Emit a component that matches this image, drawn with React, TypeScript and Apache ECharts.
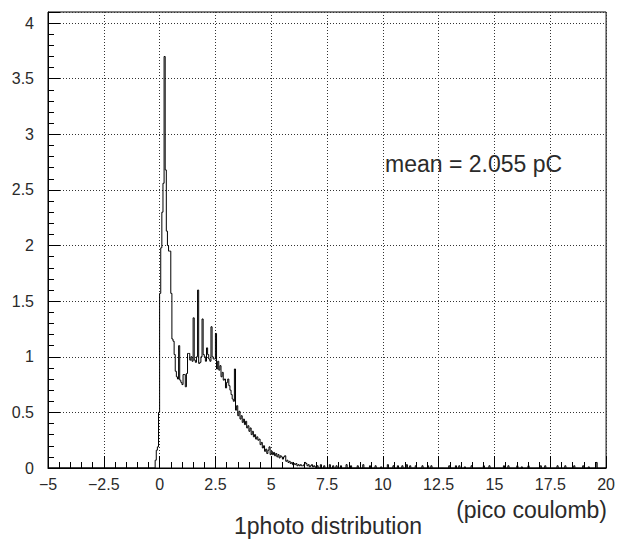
import React, { useEffect, useRef } from "react";
import * as echarts from "echarts";

// Histogram: 0.05 pC bins starting at -0.2 pC
const binWidth = 0.05;
const firstBinStart = -0.2;
const histEnd = 20;

// bin contents from -0.2 to 7.0 (each row = 10 bins = 0.5 pC)
const mainCounts = [
  0.07, 0.16, 0.19, 0.5, 1.57, 1.98, 2.3, 2.56, 3.7, 2.68,
  2.13, 2.0, 1.95, 1.95, 1.57, 1.16, 1.14, 1.02, 0.87, 0.82,
  0.8, 1.1, 0.79, 0.77, 0.75, 0.84, 0.84, 0.73, 0.85, 1.03,
  1.03, 0.97, 1.0, 0.96, 1.35, 0.97, 0.95, 1.0, 1.6, 0.94,
  0.95, 1.0, 1.34, 1.02, 1.0, 0.96, 1.08, 1.02, 0.98, 0.96,
  1.27, 1.0, 0.98, 0.98, 1.21, 0.89, 0.96, 0.88, 0.92, 0.82,
  0.86, 0.79, 0.8, 0.72, 0.77, 0.8, 0.74, 0.7, 0.66, 0.62,
  0.6, 0.89, 0.52, 0.56, 0.47, 0.51, 0.44, 0.47, 0.41, 0.44,
  0.39, 0.42, 0.36, 0.38, 0.33, 0.36, 0.3, 0.33, 0.28, 0.3,
  0.26, 0.28, 0.25, 0.26, 0.21, 0.23, 0.18, 0.2, 0.15, 0.17,
  0.13, 0.16, 0.19, 0.12, 0.15, 0.12, 0.14, 0.11, 0.13, 0.1,
  0.12, 0.09, 0.11, 0.1, 0.08, 0.1, 0.11, 0.06, 0.07, 0.05,
  0.06, 0.04, 0.05, 0.03, 0.04, 0.03, 0.04, 0.02, 0.03, 0.02,
  0.03, 0.02, 0.02, 0.03, 0.05, 0.04, 0.02, 0.03, 0.01, 0.02,
  0.03, 0.01, 0.02, 0.01,
];

// sparse tail beyond 7 pC: [bin start (pC), content]
const tailSpikes: [number, number][] = [
  [7.05, 0.02], [7.2, 0.03], [7.35, 0.02], [7.6, 0.03], [7.75, 0.02],
  [7.9, 0.02], [8.1, 0.02], [8.35, 0.03], [8.55, 0.02], [8.85, 0.02],
  [9.1, 0.03], [9.4, 0.02], [9.65, 0.02], [9.9, 0.01], [10.2, 0.03],
  [10.45, 0.02], [10.65, 0.02], [10.85, 0.02], [11.05, 0.03], [11.2, 0.02],
  [11.45, 0.02], [11.75, 0.02], [12.0, 0.02], [12.15, 0.02], [12.95, 0.02],
  [13.25, 0.02], [13.4, 0.02], [13.65, 0.01], [13.95, 0.02], [14.5, 0.02],
  [14.75, 0.02], [15.4, 0.02], [15.6, 0.02], [16.0, 0.02], [16.2, 0.01],
  [16.5, 0.02], [17.05, 0.02], [17.25, 0.02], [17.8, 0.02], [18.15, 0.02],
  [18.55, 0.02], [18.95, 0.02], [19.2, 0.01], [19.55, 0.05],
];

const xMin = -5;
const xMax = 20;
const xInterval = 2.5;
const yMin = 0;
const yMax = 4.1;
const yInterval = 0.5;

const titleText = "1photo distribution";
const unitText = "(pico coulomb)";
const meanText = "mean = 2.055 pC";

const FONT = '"Liberation Sans", Arial, sans-serif';
const TEXT_COLOR = "#2a2a2a";

function buildSteps(): [number, number][] {
  const nBins = Math.round((histEnd - firstBinStart) / binWidth);
  const counts = new Array(nBins).fill(0);
  mainCounts.forEach((v, i) => (counts[i] = v));
  tailSpikes.forEach(([x, v]) => {
    const idx = Math.round((x - firstBinStart) / binWidth);
    if (idx >= 0 && idx < nBins) counts[idx] = v;
  });
  const pts: [number, number][] = [[xMin, 0]];
  for (let i = 0; i < nBins; i++) {
    const x = +(firstBinStart + i * binWidth).toFixed(3);
    pts.push([x, counts[i]]);
  }
  pts.push([histEnd, 0]);
  return pts;
}

export default function App() {
  const ref = useRef<HTMLDivElement>(null);
  useEffect(() => {
    if (!ref.current) return;
    const chart = echarts.init(ref.current, null, { renderer: "svg" });
    const option: any = {
      animation: false,
      grid: {
        left: 48,
        right: 10,
        top: 12,
        bottom: 72,
        show: true,
        borderColor: "#000",
        borderWidth: 1,
        backgroundColor: "transparent",
      },
      xAxis: {
        type: "value",
        min: xMin,
        max: xMax,
        interval: xInterval,
        axisLine: { show: true, onZero: false, lineStyle: { color: "#000", width: 1 } },
        axisTick: { show: true, inside: true, length: 12, lineStyle: { color: "#000", width: 1 } },
        minorTick: { show: true, splitNumber: 5, length: 6, lineStyle: { color: "#000", width: 1 } },
        axisLabel: {
          margin: 8,
          fontSize: 16,
          color: TEXT_COLOR,
          fontFamily: FONT,
          formatter: (v: number) => String(v).replace("-", "\u2212"),
        },
        splitLine: { show: true, lineStyle: { color: "#333", type: [1, 2], width: 1 } },
      },
      yAxis: {
        type: "value",
        min: yMin,
        max: yMax,
        interval: yInterval,
        axisLine: { show: true, onZero: false, lineStyle: { color: "#000", width: 1 } },
        axisTick: { show: true, inside: true, length: 12, lineStyle: { color: "#000", width: 1 } },
        minorTick: { show: true, splitNumber: 5, length: 6, lineStyle: { color: "#000", width: 1 } },
        axisLabel: {
          margin: 14,
          fontSize: 16,
          color: TEXT_COLOR,
          fontFamily: FONT,
          formatter: (v: number) => (v > 4.05 ? "" : String(v)),
        },
        splitLine: { show: true, lineStyle: { color: "#333", type: [1, 2], width: 1 } },
      },
      series: [
        {
          type: "line",
          step: "end",
          data: buildSteps(),
          symbol: "none",
          lineStyle: { color: "#000", width: 1 },
        },
      ],
      graphic: [
        {
          type: "text",
          x: 385,
          y: 164,
          style: {
            text: meanText,
            font: `23px ${FONT}`,
            fill: TEXT_COLOR,
            align: "left",
            verticalAlign: "middle",
          },
        },
        {
          type: "text",
          x: 607,
          y: 510,
          style: {
            text: unitText,
            font: `23px ${FONT}`,
            fill: TEXT_COLOR,
            align: "right",
            verticalAlign: "middle",
          },
        },
        {
          type: "text",
          x: 328,
          y: 526,
          style: {
            text: titleText,
            font: `23px ${FONT}`,
            fill: TEXT_COLOR,
            align: "center",
            verticalAlign: "middle",
          },
        },
      ],
    };
    chart.setOption(option);
    return () => chart.dispose();
  }, []);
  return (
    <div
      ref={ref}
      style={{ position: "fixed", left: 0, top: 0, width: 618, height: 540, background: "#fff" }}
    />
  );
}
